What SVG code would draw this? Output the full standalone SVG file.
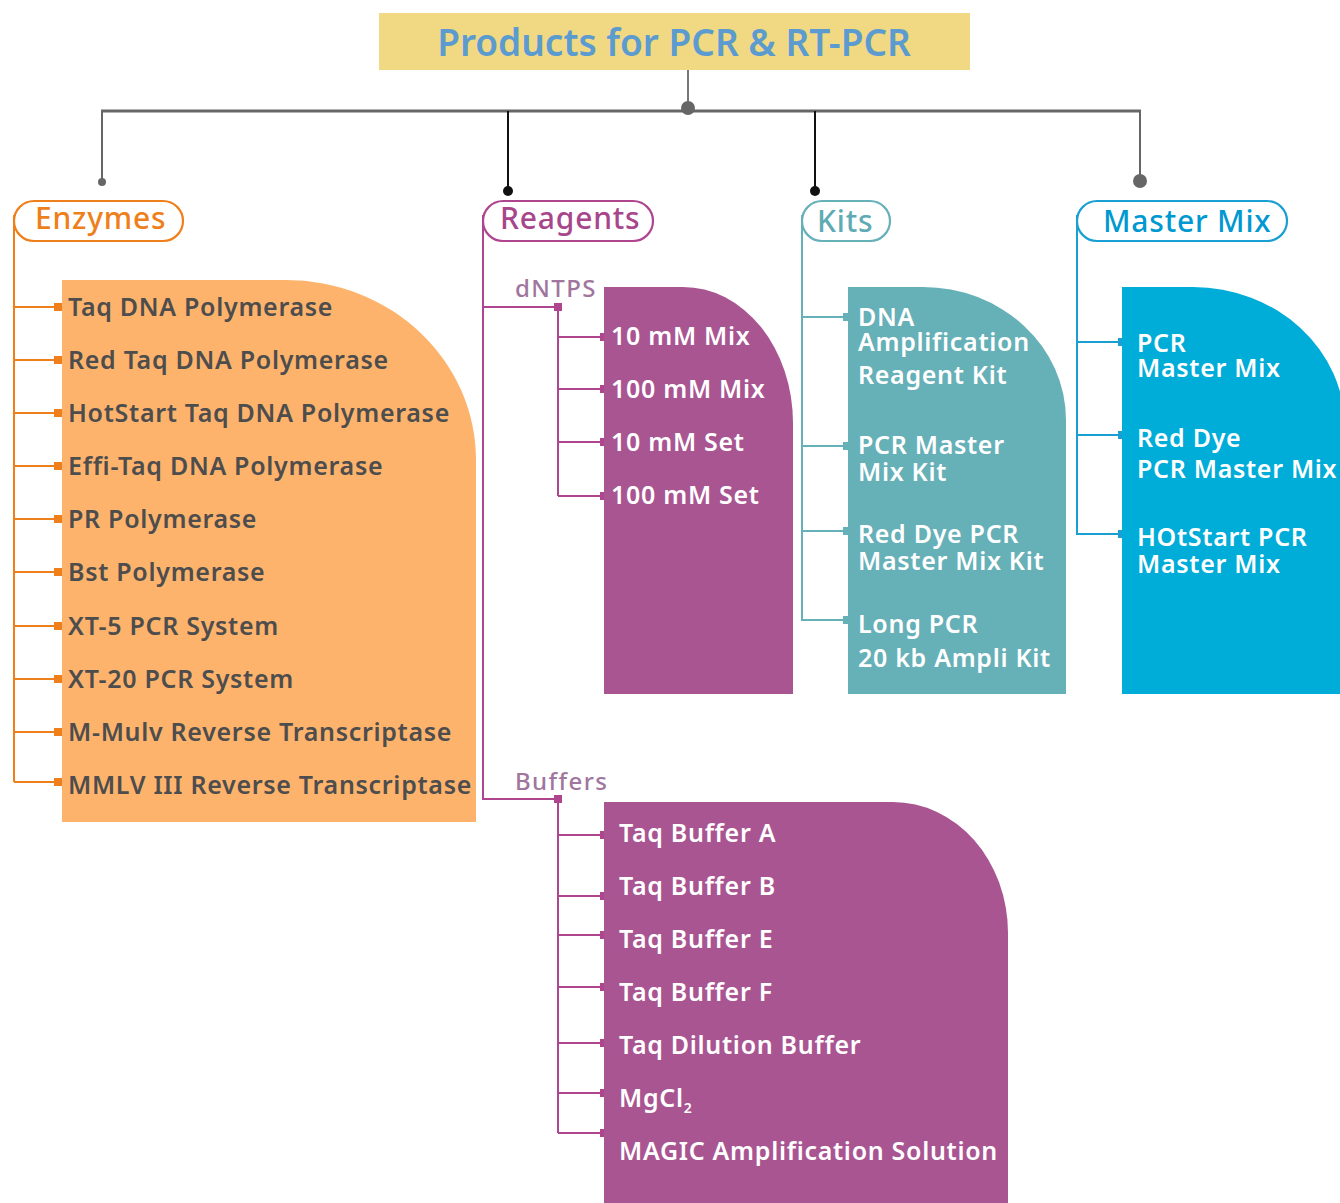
<svg xmlns="http://www.w3.org/2000/svg" width="1340" height="1203" viewBox="0 0 1340 1203">
<defs>
<style>
text{font-family:"Noto Sans","Open Sans","Liberation Sans",sans-serif;font-weight:600}
.item{font-size:25px;letter-spacing:0.7px}
.dark{fill:#4d4d4d}
.white{fill:#ffffff}
.pill{fill:#ffffff;stroke-width:2.2}
.hdr{font-size:30px;font-weight:500;letter-spacing:0.8px}
.sub{font-size:24px;font-weight:500;fill:#a0769e;letter-spacing:1.4px}
.or{stroke:#ef7f1a;fill:none;stroke-width:2}
.pu{stroke:#b0458f;fill:none;stroke-width:2}
.te{stroke:#66b0b8;fill:none;stroke-width:2}
.bl{stroke:#1a9fd3;fill:none;stroke-width:2}
</style>
</defs>

<g id="title">
<rect x="379" y="13" width="591" height="57" fill="#f1d984"/>
<text x="674" y="56" text-anchor="middle" font-size="37" font-weight="500" fill="#5b9bd0">Products for PCR &amp; RT-PCR</text>
</g>

<g id="connectors">
<line x1="688" y1="70" x2="688" y2="108" stroke="#777" stroke-width="2"/>
<line x1="101" y1="111" x2="1141" y2="111" stroke="#666" stroke-width="3"/>
<circle cx="688" cy="108" r="7" fill="#666"/>
<polyline points="102,111 102,182" fill="none" stroke="#666" stroke-width="2"/>
<circle cx="102" cy="182" r="4" fill="#666"/>
<polyline points="508,111 508,190" fill="none" stroke="#111" stroke-width="2"/>
<circle cx="508" cy="191" r="5" fill="#111"/>
<polyline points="815,111 815,190" fill="none" stroke="#111" stroke-width="2"/>
<circle cx="815" cy="191" r="5" fill="#111"/>
<polyline points="1140,111 1140,181" fill="none" stroke="#666" stroke-width="2"/>
<circle cx="1140" cy="181" r="7" fill="#666"/>

<!-- Enzymes -->
<path class="or" d="M14,215 V782 M14,307 H58 M14,360 H58 M14,413 H58 M14,466 H58 M14,519 H58 M14,572 H58 M14,626 H58 M14,679 H58 M14,732 H58 M14,782 H58"/>
<g fill="#ef7f1a">
<rect x="54" y="303" width="8" height="8"/><rect x="54" y="356" width="8" height="8"/><rect x="54" y="409" width="8" height="8"/><rect x="54" y="462" width="8" height="8"/><rect x="54" y="515" width="8" height="8"/><rect x="54" y="568" width="8" height="8"/><rect x="54" y="622" width="8" height="8"/><rect x="54" y="675" width="8" height="8"/><rect x="54" y="728" width="8" height="8"/><rect x="54" y="778" width="8" height="8"/>
</g>

<!-- Reagents -->
<path class="pu" d="M483,215 V799 H558 M483,307 H558 M558,307 V496 M558,337 H602 M558,389 H602 M558,442 H602 M558,496 H602 M558,799 V1133 M558,835 H602 M558,896 H602 M558,935 H602 M558,987 H602 M558,1043 H602 M558,1093 H602 M558,1133 H602"/>
<g fill="#b0458f">
<rect x="554" y="303" width="8" height="8"/><rect x="554" y="795" width="8" height="8"/>
<rect x="600" y="333" width="7" height="8"/><rect x="600" y="385" width="7" height="8"/><rect x="600" y="438" width="7" height="8"/><rect x="600" y="492" width="7" height="8"/>
<rect x="600" y="831" width="7" height="8"/><rect x="600" y="892" width="7" height="8"/><rect x="600" y="931" width="7" height="8"/><rect x="600" y="983" width="7" height="8"/><rect x="600" y="1039" width="7" height="8"/><rect x="600" y="1089" width="7" height="8"/><rect x="600" y="1129" width="7" height="8"/>
</g>

<!-- Kits -->
<path class="te" d="M802,215 V620 H845 M802,317 H845 M802,446 H845 M802,531 H845"/>
<g fill="#66b0b8">
<rect x="843" y="313" width="7" height="8"/><rect x="843" y="442" width="7" height="8"/><rect x="843" y="527" width="7" height="8"/><rect x="843" y="616" width="7" height="8"/>
</g>

<!-- Master Mix -->
<path class="bl" d="M1077,215 V534 H1120 M1077,342 H1120 M1077,435 H1120"/>
<g fill="#1a9fd3">
<rect x="1118" y="338" width="7" height="8"/><rect x="1118" y="431" width="7" height="8"/><rect x="1118" y="530" width="7" height="8"/>
</g>
</g>

<g id="enzymes">
<rect class="pill" x="14" y="201" width="169" height="40" rx="20" stroke="#ef7f1a"/>
<text class="hdr" x="35" y="229" fill="#ef7f1a">Enzymes</text>
<path d="M62,280 H286 A190,180 0 0 1 476,460 V822 H62 Z" fill="#fdb36c"/>
<g class="item dark">
<text x="68" y="316">Taq DNA Polymerase</text>
<text x="68" y="369">Red Taq DNA Polymerase</text>
<text x="68" y="422">HotStart Taq DNA Polymerase</text>
<text x="68" y="475">Effi-Taq DNA Polymerase</text>
<text x="68" y="528">PR Polymerase</text>
<text x="68" y="581">Bst Polymerase</text>
<text x="68" y="635">XT-5 PCR System</text>
<text x="68" y="688">XT-20 PCR System</text>
<text x="68" y="741">M-Mulv Reverse Transcriptase</text>
<text x="68" y="794">MMLV III Reverse Transcriptase</text>
</g>
</g>

<g id="reagents">
<rect class="pill" x="483" y="201" width="170" height="40" rx="20" stroke="#b0458f"/>
<text class="hdr" x="500" y="229" fill="#a8468c">Reagents</text>
</g>

<g id="dntps">
<text class="sub" x="515" y="297">dNTPS</text>
<path d="M604,287 H683 A110,136 0 0 1 793,423 V694 H604 Z" fill="#a95592"/>
<g class="item white">
<text x="611" y="345">10 mM Mix</text>
<text x="611" y="398">100 mM Mix</text>
<text x="611" y="451">10 mM Set</text>
<text x="611" y="504">100 mM Set</text>
</g>
</g>

<g id="buffers">
<text class="sub" x="515" y="790">Buffers</text>
<path d="M604,802 H893 A115,131 0 0 1 1008,933 V1203 H604 Z" fill="#a95592"/>
<g class="item white">
<text x="619" y="842">Taq Buffer A</text>
<text x="619" y="895">Taq Buffer B</text>
<text x="619" y="948">Taq Buffer E</text>
<text x="619" y="1001">Taq Buffer F</text>
<text x="619" y="1054">Taq Dilution Buffer</text>
<text x="619" y="1107">MgCl<tspan font-size="14" dy="6">2</tspan></text>
<text x="619" y="1160">MAGIC Amplification Solution</text>
</g>
</g>

<g id="kits">
<rect class="pill" x="802" y="201" width="88" height="40" rx="20" stroke="#66b0b8"/>
<text class="hdr" x="817" y="232" fill="#5fabb5">Kits</text>
<path d="M848,287 H923 A143,133 0 0 1 1066,420 V694 H848 Z" fill="#66b0b8"/>
<g class="item white">
<text x="858" y="326">DNA</text>
<text x="858" y="351">Amplification</text>
<text x="858" y="384">Reagent Kit</text>
<text x="858" y="454">PCR Master</text>
<text x="858" y="481">Mix Kit</text>
<text x="858" y="543">Red Dye PCR</text>
<text x="858" y="570">Master Mix Kit</text>
<text x="858" y="633">Long PCR</text>
<text x="858" y="667">20 kb Ampli Kit</text>
</g>
</g>

<g id="mastermix">
<rect class="pill" x="1077" y="201" width="210" height="40" rx="20" stroke="#1a9fd3"/>
<text class="hdr" x="1103" y="232" fill="#0098d0">Master Mix</text>
<path d="M1122,287 H1193 A152,140 0 0 1 1345,427 V694 H1122 Z" fill="#00acd8"/>
<g class="item white">
<text x="1137" y="352">PCR</text>
<text x="1137" y="377">Master Mix</text>
<text x="1137" y="447">Red Dye</text>
<text x="1137" y="478">PCR Master Mix</text>
<text x="1137" y="546">HOtStart PCR</text>
<text x="1137" y="573">Master Mix</text>
</g>
</g>
</svg>
